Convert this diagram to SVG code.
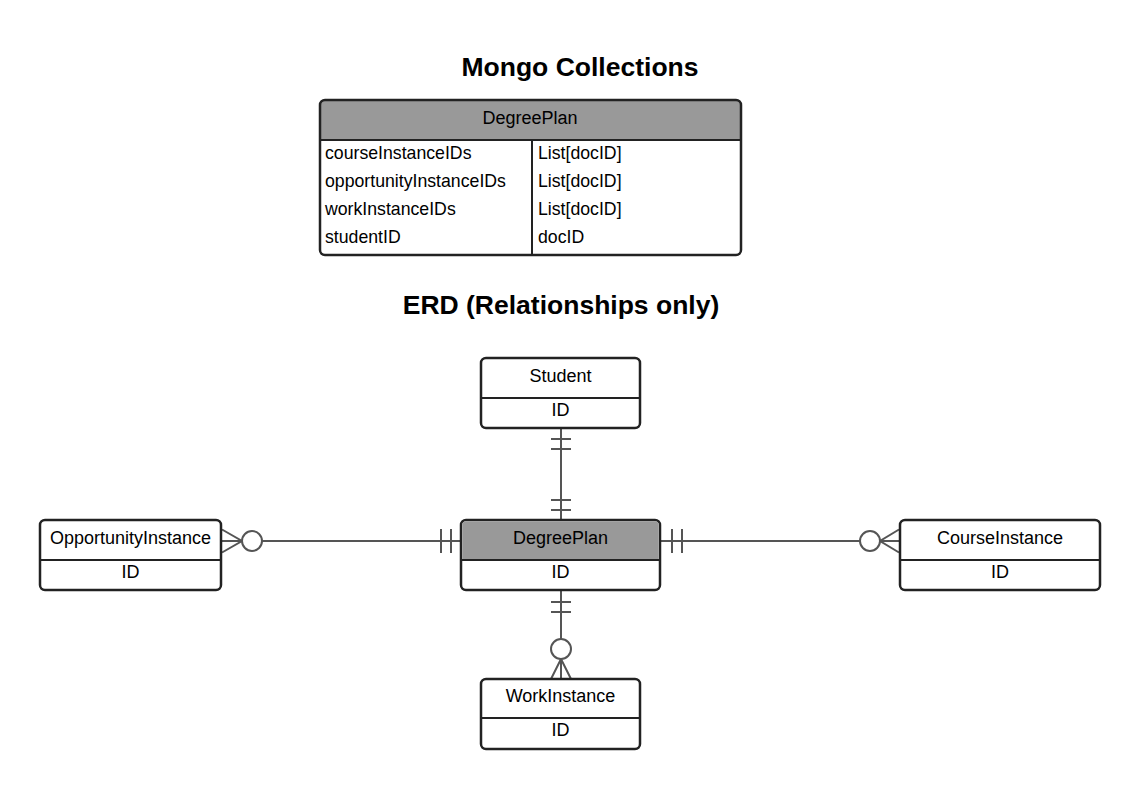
<svg xmlns="http://www.w3.org/2000/svg" width="1140" height="790" viewBox="0 0 1140 790">
<style>
text{font-family:"Liberation Sans",Arial,sans-serif;fill:#000}
.t{font-size:26.5px;font-weight:bold;text-anchor:middle}
.c{font-size:18px;text-anchor:middle}
.l{font-size:17.7px}
.box{fill:#fff;stroke:#222;stroke-width:2.5}
.hd{fill:#999}
.sep{stroke:#222;stroke-width:2}
.cn{stroke:#555;stroke-width:2;fill:none}
.ci{stroke:#555;stroke-width:2;fill:#fff}
</style>
<rect width="1140" height="790" fill="#fff"/>
<text class="t" x="580" y="76">Mongo Collections</text>
<text class="t" x="561" y="314">ERD (Relationships only)</text>

<g id="table">
<path class="hd" d="M325,100 H736 A5,5 0 0 1 741,105 V140 H320 V105 A5,5 0 0 1 325,100 Z"/>
<rect class="box" x="320" y="100" width="421" height="155" rx="5" style="fill:none"/>
<line class="sep" x1="320" y1="140" x2="741" y2="140"/>
<line class="sep" x1="532" y1="140" x2="532" y2="255"/>
<text class="c" x="530" y="124">DegreePlan</text>
<text class="l" x="325" y="159">courseInstanceIDs</text>
<text class="l" x="325" y="187">opportunityInstanceIDs</text>
<text class="l" x="325" y="215">workInstanceIDs</text>
<text class="l" x="325" y="243">studentID</text>
<text class="l" x="538" y="159">List[docID]</text>
<text class="l" x="538" y="187">List[docID]</text>
<text class="l" x="538" y="215">List[docID]</text>
<text class="l" x="538" y="243">docID</text>
</g>

<g id="connectors">
<line class="cn" x1="561" y1="428" x2="561" y2="520"/>
<line class="cn" x1="551" y1="439" x2="571" y2="439"/>
<line class="cn" x1="551" y1="449" x2="571" y2="449"/>
<line class="cn" x1="551" y1="500" x2="571" y2="500"/>
<line class="cn" x1="551" y1="510" x2="571" y2="510"/>

<line class="cn" x1="221" y1="541" x2="461" y2="541"/>
<line class="cn" x1="441" y1="529" x2="441" y2="553"/>
<line class="cn" x1="451" y1="529" x2="451" y2="553"/>
<path class="cn" d="M222,529.5 L242,541 L222,552.5"/>
<circle class="ci" cx="252" cy="541" r="10"/>

<line class="cn" x1="660" y1="541" x2="900" y2="541"/>
<line class="cn" x1="672" y1="529" x2="672" y2="553"/>
<line class="cn" x1="682" y1="529" x2="682" y2="553"/>
<path class="cn" d="M899,529.5 L880,541 L899,552.5"/>
<circle class="ci" cx="870" cy="541" r="10"/>

<line class="cn" x1="561" y1="590" x2="561" y2="679"/>
<line class="cn" x1="551" y1="602" x2="571" y2="602"/>
<line class="cn" x1="551" y1="612" x2="571" y2="612"/>
<path class="cn" d="M551,679 L561,659 L571,679"/>
<circle class="ci" cx="561" cy="649" r="10"/>
</g>

<g id="student">
<rect class="box" x="481" y="358" width="159" height="70" rx="5"/>
<line class="sep" x1="481" y1="398" x2="640" y2="398"/>
<text class="c" x="560.5" y="382">Student</text>
<text class="c" x="560.5" y="416">ID</text>
</g>

<g id="degreeplan">
<rect class="box" x="461" y="520" width="199" height="70" rx="5"/>
<path class="hd" d="M466,521.3 H655 A3.7,3.7 0 0 1 658.7,525 V560 H462.3 V525 A3.7,3.7 0 0 1 466,521.3 Z"/>
<line class="sep" x1="461" y1="560" x2="660" y2="560"/>
<text class="c" x="560.5" y="544">DegreePlan</text>
<text class="c" x="560.5" y="578">ID</text>
</g>

<g id="opportunity">
<rect class="box" x="40" y="520" width="181" height="70" rx="5"/>
<line class="sep" x1="40" y1="560" x2="221" y2="560"/>
<text class="c" x="130.5" y="544">OpportunityInstance</text>
<text class="c" x="130.5" y="578">ID</text>
</g>

<g id="course">
<rect class="box" x="900" y="520" width="200" height="70" rx="5"/>
<line class="sep" x1="900" y1="560" x2="1100" y2="560"/>
<text class="c" x="1000" y="544">CourseInstance</text>
<text class="c" x="1000" y="578">ID</text>
</g>

<g id="work">
<rect class="box" x="481" y="679" width="159" height="70" rx="5"/>
<line class="sep" x1="481" y1="718" x2="640" y2="718"/>
<text class="c" x="560.5" y="702">WorkInstance</text>
<text class="c" x="560.5" y="736">ID</text>
</g>
</svg>
